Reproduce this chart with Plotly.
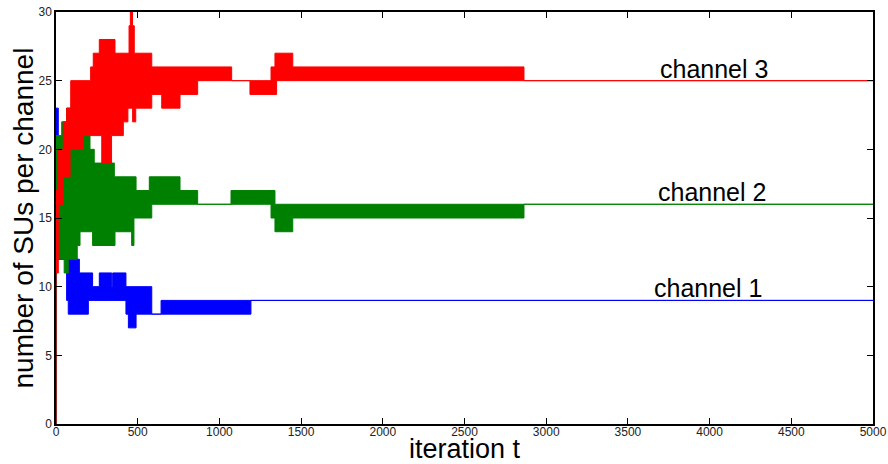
import plotly.graph_objects as go

# ---- data (step envelopes of each channel's oscillation band) ----
# upper / lower envelopes: start x of each step and its value; last step runs to x_end
x_end = 5000

ch3_up_x = [0, 14, 45, 65, 90, 212, 228, 265, 361, 447, 455, 468, 479, 586, 1075, 1316, 1340, 1449, 2864]
ch3_up_y = [17, 20, 22, 23, 25, 26, 27, 28, 27, 29, 30, 29, 27, 26, 25, 26, 27, 26, 25]
ch3_lo_x = [0, 14, 45, 86, 167, 280, 340, 412, 440, 469, 488, 586, 647, 759, 867, 1187, 1350]
ch3_lo_y = [11, 16, 18, 20, 21, 19, 21, 22, 23, 22, 23, 24, 23, 24, 25, 24, 25]

ch2_up_x = [0, 35, 65, 90, 102, 163, 208, 234, 357, 490, 571, 759, 867, 1071, 1340]
ch2_up_y = [21, 22, 23, 21, 20, 21, 20, 19, 18, 17, 18, 17, 16, 17, 16]
ch2_lo_x = [0, 14, 50, 75, 130, 147, 224, 361, 463, 477, 586, 1316, 1340, 1449, 2864]
ch2_lo_y = [14, 12, 11, 12, 13, 14, 13, 14, 13, 15, 16, 15, 14, 15, 16]

ch1_up_x = [0, 14, 143, 224, 265, 341, 347, 428, 586, 643]
ch1_up_y = [23, 12, 11, 10, 11, 10, 11, 10, 8, 9]
ch1_lo_x = [0, 65, 75, 198, 428, 443, 490, 1193]
ch1_lo_y = [12, 9, 8, 9, 8, 7, 8, 9]

start_x = [0, 0]
start_y = [0, 11]

labels = ["channel 1", "channel 2", "channel 3"]
label_x = [3990, 4015, 4027]
label_y = [9, 16, 25]

x_ticks = [0, 500, 1000, 1500, 2000, 2500, 3000, 3500, 4000, 4500, 5000]
y_ticks = [0, 5, 10, 15, 20, 25, 30]

x_title = "iteration t"
y_title = "number of SUs per channel"

FONT = "Liberation Sans, Arial"


def step_path(xs, ys, xe):
    px, py = [], []
    for i, x in enumerate(xs):
        xn = xs[i + 1] if i + 1 < len(xs) else xe
        px += [x, xn]
        py += [ys[i], ys[i]]
    return px, py


def band(up_x, up_y, lo_x, lo_y):
    ux, uy = step_path(up_x, up_y, x_end)
    lx, ly = step_path(lo_x, lo_y, x_end)
    return ux + lx[::-1] + [ux[0]], uy + ly[::-1] + [uy[0]]


fig = go.Figure()
series = [
    (ch1_up_x, ch1_up_y, ch1_lo_x, ch1_lo_y, "#0000ff", "channel 1"),
    (ch2_up_x, ch2_up_y, ch2_lo_x, ch2_lo_y, "#008000", "channel 2"),
    (ch3_up_x, ch3_up_y, ch3_lo_x, ch3_lo_y, "#ff0000", "channel 3"),
]
for ux, uy, lx, ly, col, name in series:
    bx, by = band(ux, uy, lx, ly)
    fig.add_trace(go.Scatter(x=bx, y=by, mode="lines", fill="toself", fillcolor=col,
                             line=dict(color=col, width=1), name=name, showlegend=False))

fig.add_trace(go.Scatter(x=start_x, y=start_y, mode="lines",
                         line=dict(color="#8b2a2a", width=2), showlegend=False))

for t, xx, yy in zip(labels, label_x, label_y):
    fig.add_annotation(x=xx, y=yy, text=t, showarrow=False, xanchor="center", yanchor="bottom",
                       yshift=-4, font=dict(family=FONT, size=25, color="black"))

# axis titles placed as text next to the axes, as in the reference
fig.add_annotation(x=-0.041, y=0.5, xref="paper", yref="paper", text=y_title, textangle=-90,
                   showarrow=False, xanchor="center", yanchor="middle",
                   font=dict(family=FONT, size=28, color="black"))
fig.add_annotation(x=0.5, y=-0.0978, xref="paper", yref="paper", text=x_title,
                   showarrow=False, xanchor="center", yanchor="bottom", yshift=-1,
                   borderpad=0, font=dict(family=FONT, size=27, color="black"))

axis_common = dict(showline=True, linecolor="black", linewidth=1.5, mirror="allticks",
                   ticks="inside", ticklen=6, tickwidth=1, tickcolor="black", showgrid=False,
                   zeroline=False, tickfont=dict(family=FONT, size=12, color="#222"))

fig.update_xaxes(range=[0, 5000], tickvals=x_ticks, ticktext=[str(v) for v in x_ticks],
                 ticklabelstandoff=-4, automargin=False, **axis_common)
fig.update_yaxes(range=[0, 30], tickvals=y_ticks, ticktext=[str(v) for v in y_ticks],
                 automargin=False, **axis_common)

fig.update_layout(width=888, height=464, margin=dict(l=56, r=15, t=12, b=40),
                  paper_bgcolor="white", plot_bgcolor="white", showlegend=False)

fig.write_html("out.html")
